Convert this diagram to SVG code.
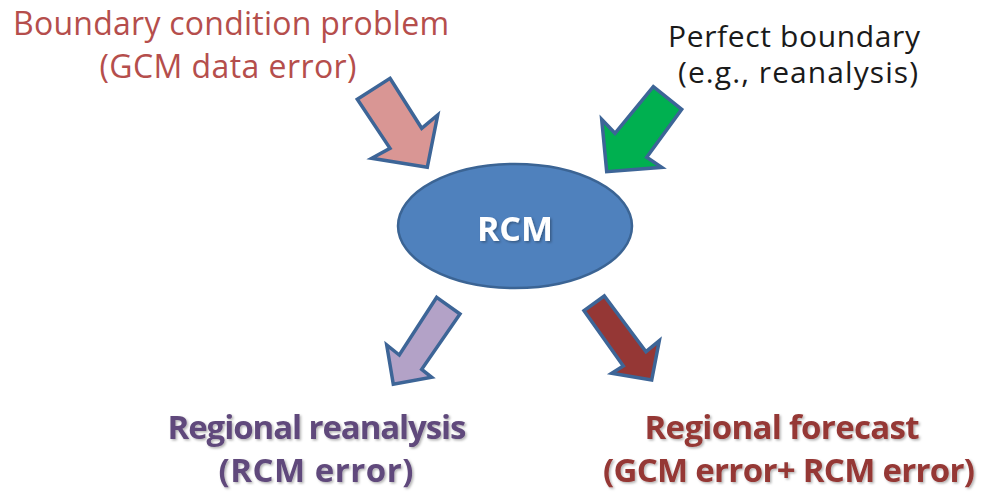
<svg xmlns="http://www.w3.org/2000/svg" width="986" height="493" viewBox="0 0 986 493">
<defs>
<style>
.t{font-family:"Open Sans","Noto Sans","DejaVu Sans",sans-serif;text-anchor:middle}
.reg{font-size:32px}
.reg2{font-size:30px}
.bold{font-size:33px;font-weight:bold}
.arr{stroke:#3d6597;stroke-width:3.5;stroke-linejoin:miter}
</style>
<filter id="sh" x="-10%" y="-10%" width="120%" height="130%">
<feDropShadow dx="1.5" dy="1.5" stdDeviation="1" flood-color="#000" flood-opacity="0.3"/>
</filter>
</defs>
<rect width="986" height="493" fill="#fff"/>
<g id="connectors">
<polygon class="arr" fill="#d99694" points="390,78.3 421.7,128.3 437.7,115 427.3,167.3 371.7,158.3 390,148.3 357.3,99.3"/>
<polygon class="arr" fill="#00b050" points="653.3,86.7 681.7,109.3 646.7,157.3 661.7,167.3 606.7,171.7 601.7,119.3 615,133.3"/>
<polygon class="arr" fill="#b3a2c7" points="436.7,297.3 460,314 421.7,369.3 431.7,377.3 393.3,384.3 386.7,345 399.3,355"/>
<polygon class="arr" fill="#953735" points="584,310.7 604.3,296 646,351.7 659.3,340.7 651.7,380 611.7,373.3 623.3,366"/>
</g>
<g id="rcm">
<ellipse cx="515" cy="226" rx="117" ry="62" fill="#4f81bd" stroke="#3b6494" stroke-width="2.5"/>
<text class="t" x="515" y="241" font-size="34" font-weight="bold" fill="#fff" filter="url(#sh)">RCM</text>
</g>
<g id="boundary-problem">
<text class="t reg" fill="#b54e4c" x="231" y="35" textLength="436">Boundary condition problem</text>
<text class="t reg" fill="#b54e4c" x="228" y="78" textLength="257">(GCM data error)</text>
</g>
<g id="perfect-boundary">
<text class="t reg2" fill="#1a1a1a" x="794" y="47" textLength="252">Perfect boundary</text>
<text class="t reg2" fill="#1a1a1a" x="798" y="83" textLength="240">(e.g., reanalysis)</text>
</g>
<g id="regional-reanalysis" filter="url(#sh)">
<text class="t bold" fill="#604a7b" x="317" y="439" textLength="299">Regional reanalysis</text>
<text class="t bold" fill="#604a7b" x="316" y="482" textLength="195">(RCM error)</text>
</g>
<g id="regional-forecast" filter="url(#sh)">
<text class="t bold" fill="#953735" x="782" y="439" textLength="275">Regional forecast</text>
<text class="t bold" fill="#953735" x="789" y="482" textLength="372">(GCM error+ RCM error)</text>
</g>
</svg>
